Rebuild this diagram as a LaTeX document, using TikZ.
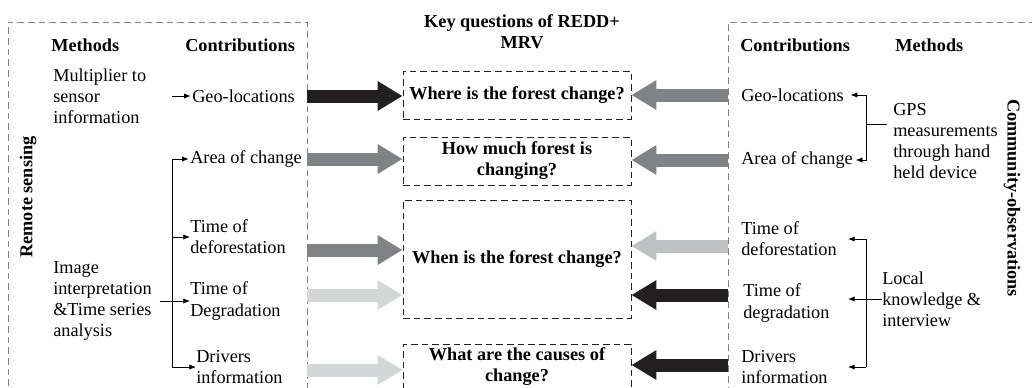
\documentclass[tikz,border=0pt]{standalone}
\usepackage{fontspec}
\setmainfont{Liberation Serif}
\usetikzlibrary{arrows.meta}
\usepackage{xcolor}
\definecolor{cdark}{RGB}{35,31,32}
\definecolor{cmid}{RGB}{128,130,133}
\definecolor{cpale}{RGB}{190,192,194}
\definecolor{clight}{RGB}{212,214,215}

\begin{document}
\begin{tikzpicture}[x=0.75pt, y=-0.75pt]
\fontsize{13.7pt}{15.8pt}\selectfont
\tikzset{txt/.style={anchor=west, align=left, inner sep=0pt}}
\tikzset{hdr/.style={txt, font=\bfseries}}
\tikzset{side/.style={font=\bfseries, inner sep=0pt}}
\tikzset{frame/.style={draw=cmid, dash pattern=on 5pt off 3pt, line width=0.6pt, minimum width=224.25pt, minimum height=283.5pt}}
\tikzset{qbox/.style={draw=cdark, dash pattern=on 5pt off 3pt, line width=0.6pt, minimum width=171pt, align=center, font=\bfseries, inner sep=2pt}}
\tikzset{barrow/.style={line width=9.75pt, -{Triangle[length=18.75pt, width=21pt]}}}
\tikzset{tarrow/.style={line width=0.6pt, -{Latex[length=5pt, width=4pt]}}}
\useasboundingbox (0,0) rectangle (1032,387);
\clip (0,0) rectangle (1032,387);
% frames
\node[frame] (rs) at (157.5,211) {};
\node[frame, minimum width=241.5pt] (co) at (889,211) {};
\node[side, rotate=90] (rsL) at (28,197) {Remote sensing};
\node[side, rotate=-90] (coR) at (1012,198) {Community-observations};
% questions
\node[font=\bfseries, align=center, inner sep=0pt] (title) at (522,32) {Key questions of REDD+\\MRV};
\node[qbox, minimum height=36pt] (q1) at (517,95) {Where is the forest change?};
\node[qbox, minimum height=36pt] (q2) at (517,161) {How much forest is\\changing?};
\node[qbox, minimum height=88.5pt] (q3) at (517,259) {When is the forest change?};
\node[qbox, minimum height=45pt, anchor=north] (q4) at (517,344) {};
\node[font=\bfseries, align=center, inner sep=0pt] (q4t) at (517,367) {What are the causes of\\change?};
% remote sensing side
\node[hdr] (methL) at (51,45) {Methods};
\node[hdr] (contL) at (185,45) {Contributions};
\node[txt] (multL) at (53,96) {Multiplier to\\sensor\\information};
\node[txt] (imgL) at (53,301) {Image\\interpretation\\\&Time series\\analysis};
\node[txt] (geoL) at (192,96) {Geo-locations};
\node[txt] (areaL) at (190,159) {Area of change};
\node[txt] (tdefL) at (190,237) {Time of\\deforestation};
\node[txt] (tdegL) at (190,301) {Time of\\Degradation};
\node[txt] (drvL) at (196,367) {Drivers\\information};
% community side
\node[hdr] (contR) at (740,45) {Contributions};
\node[hdr] (methR) at (895,45) {Methods};
\node[txt] (geoR) at (741,95) {Geo-locations};
\node[txt] (areaR) at (741,160) {Area of change};
\node[txt] (tdefR) at (741,239) {Time of\\deforestation};
\node[txt] (tdegR) at (743,303) {Time of\\degradation};
\node[txt] (drvR) at (741,367) {Drivers\\information};
\node[txt] (gpsR) at (893,141) {GPS\\measurements\\through hand\\held device};
\node[txt] (locR) at (882,299) {Local\\knowledge \&\\interview};
% rows of the block arrows
\coordinate (lr3) at (0,250);
\coordinate (lr4) at (0,295);
\coordinate (lr5) at (0,370);
\coordinate (rr3) at (0,246);
\coordinate (rr4) at (0,295);
\coordinate (rr5) at (0,365);
\draw[barrow, draw=cdark] (rs.east |- geoL) -- (q1.west |- geoL);
\draw[barrow, draw=cmid] (rs.east |- areaL) -- (q2.west |- areaL);
\draw[barrow, draw=cmid] (rs.east |- lr3) -- (q3.west |- lr3);
\draw[barrow, draw=clight] (rs.east |- lr4) -- (q3.west |- lr4);
\draw[barrow, draw=clight] (rs.east |- lr5) -- (q4.west |- lr5);
\draw[barrow, draw=cmid] (co.west |- geoR) -- (q1.east |- geoR);
\draw[barrow, draw=cmid] (co.west |- areaR) -- (q2.east |- areaR);
\draw[barrow, draw=cpale] (co.west |- rr3) -- (q3.east |- rr3);
\draw[barrow, draw=cdark] (co.west |- rr4) -- (q3.east |- rr4);
\draw[barrow, draw=cdark] (co.west |- rr5) -- (q4.east |- rr5);
% left bracket
\coordinate (lsp) at (172,0);
\draw[line width=0.6pt] (lsp |- areaL) -- (lsp |- drvL);
\draw[tarrow] (lsp |- geoL) -- ([xshift=-1pt]geoL.west);
\draw[tarrow] (lsp |- areaL) -- ([xshift=-1pt]areaL.west);
\draw[tarrow] (lsp |- tdefL) -- (tdefL.west);
\draw[tarrow] ([xshift=6pt]imgL.east) -- (imgL.east -| tdegL.west);
\draw[tarrow] (lsp |- drvL) -- (drvL.west);
% right brackets
\coordinate (gpsj) at (866,124);
\draw[line width=0.6pt] (gpsj) -- ++(21,0);
\draw[tarrow] (gpsj) |- ([xshift=5pt]geoR.east);
\draw[tarrow] (gpsj) |- ([xshift=2pt]areaR.east);
\coordinate (rtip) at (848,0);
\coordinate (locj) at (866,0);
\draw[line width=0.6pt] (locj |- tdefR) -- (locj |- drvR);
\draw[tarrow] (locj |- tdefR) -- (rtip |- tdefR);
\draw[tarrow] (locR.west) -- (rtip |- locR);
\draw[tarrow] (locj |- drvR) -- (rtip |- drvR);
\end{tikzpicture}
\end{document}
